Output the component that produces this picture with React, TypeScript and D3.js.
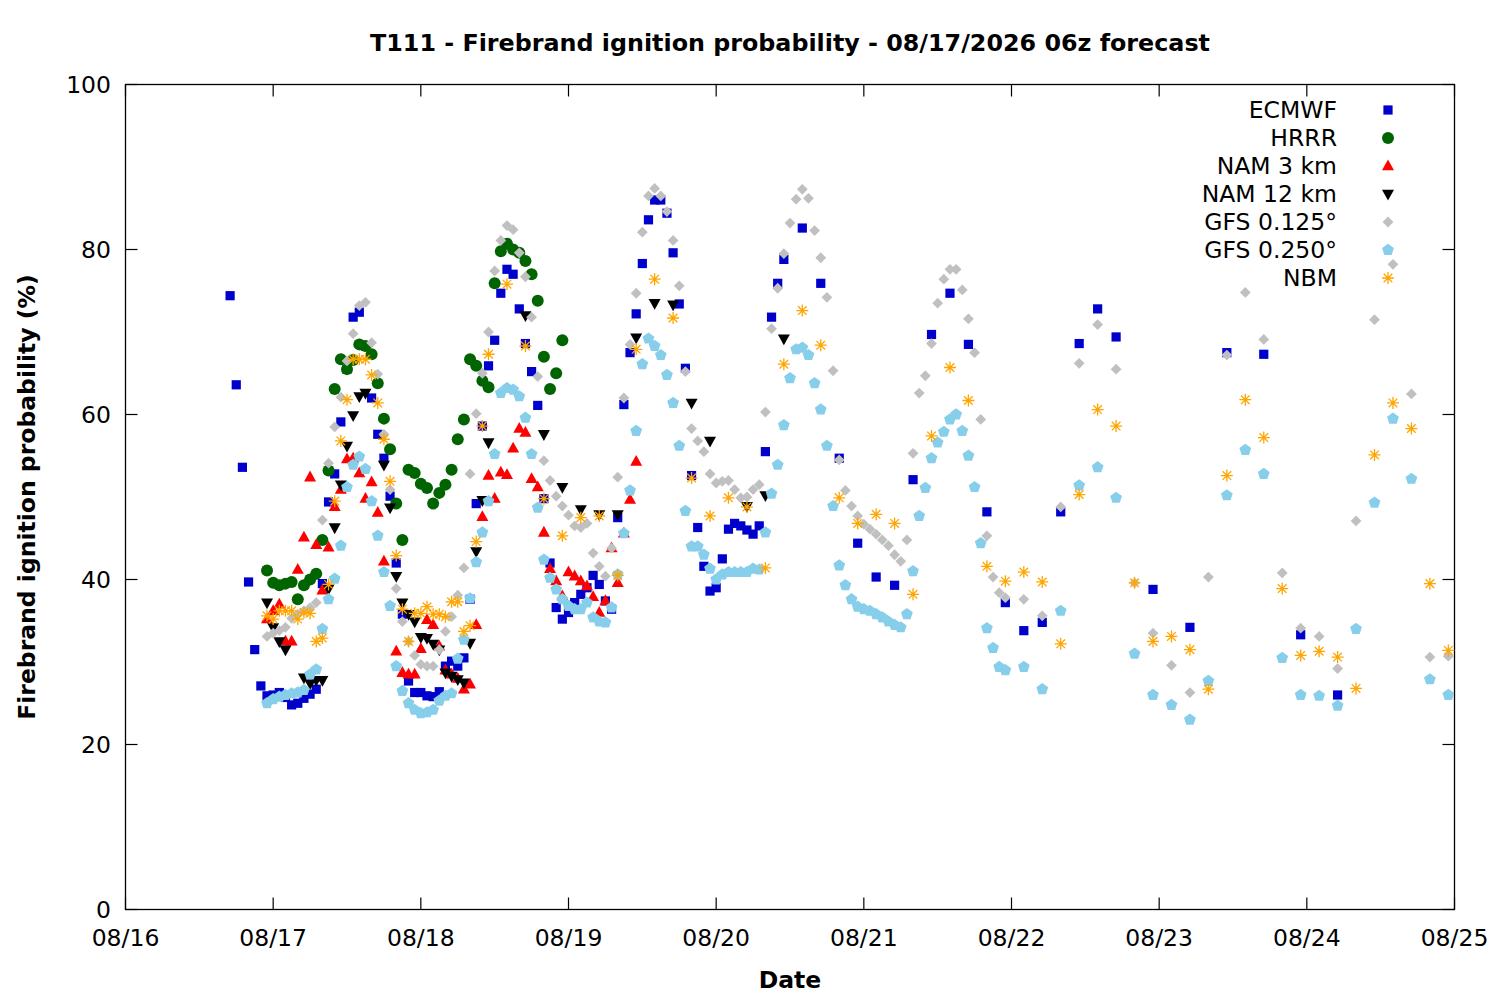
import React from "react";
import * as d3 from "d3";

// ---------------- DATA (hours after 08/16 00:00, values in %; null = no mark) ----------------
const ecmwfHours = [...d3.range(17, 108), ...d3.range(110, 162, 3), ...d3.range(167, 198, 6)];
const ecmwfValues = [
  74.4, 63.6, 53.6, 39.7, 31.5, 27.1, 25.9, 26.0, 26.3, 25.7, 24.8, 25.0, 25.6, 26.1, 26.7,
  39.5, 49.4, 52.8, 59.1, 65.5, 71.8, 72.4, 68.3, 62.0, 57.6, 54.7, 50.1, 42.0, 35.8, 27.7,
  26.3, 26.3, 25.9, 25.8, 26.4, 29.5, 30.1, 29.5, 30.5, 37.6, 49.2, 58.6, 65.9, 69.0, 74.7,
  77.6, 77.0, 72.8, 68.6, 65.2, 61.1, 49.8, 42.0, 36.6, 35.2, 36.0, 37.2, 38.2, 39.0, 40.5,
  39.4, 37.4, 36.4, 47.5, 61.2, 67.5, 72.2, 78.3, 83.6, 86.0, 86.0, 84.4, 79.6, 73.4, 65.6,
  52.6, 46.3, 41.6, 38.6, 39.0, 42.5, 46.1, 46.8, 46.5, 46.0, 45.5, 46.5, 55.5, 71.8, 75.9,
  78.8,
  82.6, 75.9, 54.7, 44.4, 40.3, 39.3, 52.1, 69.7, 74.7, 68.5, 48.2, 37.2, 33.8, 34.8, 48.2,
  68.6, 72.8, 69.4,
  38.8, 34.2, 67.5, 67.3, 33.3, 26.0,
];

const hrrrHours = d3.range(23, 72);
const hrrrValues = [
  41.1, 39.6, 39.3, 39.5, 39.7, 37.6, 39.3, 40.0, 40.7, 44.8, 53.2, 63.1, 66.7, 65.5, 66.6,
  68.5, 68.3, 67.3, 63.8, 59.5, 55.8, 49.2, 44.8, 53.3, 52.9, 51.6, 51.1, 49.2, 50.5, 51.5,
  53.3, 57.0, 59.4, 66.7, 65.9, 64.1, 63.3, 75.9, 79.8, 80.7, 80.0, 79.6, 78.6, 77.0, 73.8,
  67.0, 63.1, 65.0, 69.0,
];

const nam3Hours = d3.range(23, 84);
const nam3Values = [
  35.2, 36.2, 37.0, 32.5, 32.5, 41.2, 45.1, 52.4, 44.2, 38.7, 43.9, 48.8, 50.9, 54.6, 54.7,
  52.9, 49.8, 51.8, 48.1, 42.2, null, 31.3, 28.7, 28.5, 28.5, 31.6, 35.1, 34.5, 31.9, 29.0,
  28.5, 28.0, 26.7, 27.3, 34.5, 47.6, 52.6, 49.8, 53.0, 52.7, 55.9, 58.3, 57.8, 52.2, 51.2,
  45.7, 41.3, 39.8, 38.0, 40.9, 40.4, 39.8, 39.2, 37.9, 36.0, 37.4, 43.8, 39.6, 45.6, 49.7,
  54.3,
];

const nam12Hours = [...d3.range(23, 60), ...d3.range(62, 108, 3)];
const nam12Values = [
  37.2, 34.2, 32.5, 31.5, null, null, 28.1, 27.4, 27.8, 27.8, 38.9, 46.3, 51.5, 56.2, 59.9,
  62.2, 62.6, null, null, 53.9, 48.7, 40.4, 37.2, 35.8, 34.9, 33.0, 32.9, 32.2, 31.5, 28.7,
  28.3, 27.9, 27.5, 32.3, 43.4, 49.6, 56.6,
  null, 72.0, 57.6, 51.2, 48.5, 47.9, 47.9, 69.3, 73.5, 73.3, 61.4, 56.8, null, 48.9, 50.2,
  69.2,
];

const gfs125Hours = [...d3.range(23, 144), ...d3.range(146, 216, 3)];
const gfs125Values = [
  33.1, 33.5, 33.8, 34.2, 35.3, 35.8, 36.2, 36.6, 37.2, 47.2, 54.1, 58.5, 62.1, 66.5, 69.8,
  73.2, 73.6, 68.7, 64.9, 57.6, 50.9, 38.9, 34.9, 32.5, 30.8, 29.7, 29.5, 29.5, 31.5, 33.7,
  35.5, 38.1, 41.4, 52.8, 60.1, 65.0, 70.0, 77.4, 81.1, 82.9, 82.4, 79.6, 76.7, 71.8, 64.6,
  54.4, 52.0, 50.1, 48.9, 47.8, 46.5, 46.3, 46.8, 43.2, 41.6, 40.4, 43.8, 52.4, 62.0, 68.5,
  74.7, 82.1, 86.5, 87.4, 86.5, 84.6, 81.1, 75.6, 65.2, 58.3, 56.8, 55.5, 52.8, 51.7, 51.9,
  52.0, 50.9, 49.9, 50.0, 50.9, 51.5, 60.3, 70.4, 75.3, 79.5, 83.2, 86.1, 87.3, 86.2, 82.3,
  79.0, 74.2, 65.3, 54.5, 50.8, 48.9, 47.7, 46.7, 46.1, 45.5, 44.8, 44.1, 43.0, 42.2, 44.8,
  55.3, 62.6, 64.7, 68.6, 73.5, 76.4, 77.6, 77.6, 75.1, 71.6, 67.5, 59.4, 45.3, 40.3, 38.4,
  37.8,
  37.6, 35.6, 48.8, 66.2, 70.9, 65.5, 39.6, 33.5, 29.6, 26.3, 40.3, 67.2, 74.8, 69.1, 40.8,
  34.1, 33.1, 29.2, 47.1, 71.5, 78.2, 62.5, 30.6, 30.7,
];

const gfs250Hours = [...d3.range(23, 144), ...d3.range(146, 216, 3)];
const gfs250Values = [
  25.0, 25.5, 25.8, 26.0, 26.2, 26.3, 26.6, 28.5, 29.1, 34.0, 37.6, 40.1, 44.1, 51.2, 53.9,
  54.9, 53.4, 49.5, 45.3, 40.9, 36.8, 29.5, 26.5, 25.0, 24.2, 23.8, 23.9, 24.2, 25.3, 25.9,
  26.2, 30.4, 32.7, 37.7, 42.1, 45.7, 49.5, 55.2, 62.6, 63.2, 63.0, 62.2, 59.6, 55.2, 48.7,
  42.4, 40.2, 38.8, 37.6, 36.8, 36.4, 36.4, 37.2, 35.4, 34.9, 34.8, 36.6, 40.6, 45.6, 50.8,
  58.0, 66.1, 69.2, 68.3, 67.2, 64.8, 61.4, 56.2, 48.3, 44.0, 44.0, 43.0, 41.3, 40.0, 40.6,
  40.9, 40.9, 40.9, 40.9, 41.3, 41.2, 45.7, 50.4, 53.9, 58.7, 64.4, 67.9, 68.1, 67.2, 63.8,
  60.6, 56.2, 48.9, 41.7, 39.3, 37.6, 36.7, 36.4, 36.2, 35.8, 35.4, 34.9, 34.5, 34.2, 35.8,
  41.0, 47.7, 51.1, 54.7, 56.6, 57.9, 59.4, 60.0, 58.0, 55.0, 51.2, 44.4, 34.1, 31.7, 29.4,
  29.0,
  29.4, 26.7, 36.2, 51.4, 53.6, 49.9, 31.0, 26.0, 24.8, 23.0, 27.7, 50.2, 55.7, 52.8, 30.5,
  26.0, 25.9, 24.7, 34.0, 49.3, 59.5, 52.2, 27.9, 26.0,
];

const nbmHours = [...d3.range(23, 60), ...d3.range(62, 216, 3)];
const nbmValues = [
  35.6, 35.2, 36.2, 36.2, 36.2, 35.2, 36.0, 35.9, 32.5, 32.9, 39.4, 49.5, 56.8, 61.8, 66.7,
  66.7, 66.7, 64.8, 61.4, 57.0, 51.9, 42.9, 36.4, 32.5, 35.9, 35.9, 36.7, 35.8, 35.8, 35.5,
  37.3, 37.3, 33.7, 34.4, 44.6, 58.6, 67.3,
  75.8, 68.3, 49.8, 45.3, 47.5, 47.7, 40.5, 67.9, 76.4, 71.7, 52.3, 47.7, 49.9, 48.8, 41.4,
  66.1, 72.6, 68.4, 49.9, 46.8, 47.9, 46.8, 38.2, 57.4, 65.7, 61.7, 41.6, 39.8, 40.9, 39.7,
  32.2, 50.3, 60.6, 58.6, 39.6, 32.5, 33.1, 31.5, 26.7, 52.6, 61.8, 57.2, 38.9, 30.8, 31.3,
  30.6, 26.8, 55.1, 61.4, 58.3, 39.5, 31.4,
];

const dayLabels = ["08/16", "08/17", "08/18", "08/19", "08/20", "08/21", "08/22", "08/23", "08/24", "08/25"];
const yTicks = [0, 20, 40, 60, 80, 100];

const titleText = "T111 - Firebrand ignition probability - 08/17/2026 06z forecast";

// ---------------- LAYOUT ----------------
const W = 1500;
const H = 1000;
const PL = 125.5;
const PR = 1454.5;
const PT = 84.5;
const PB = 909.5;
const FONT = "'DejaVu Sans', Verdana, sans-serif";

const x = d3.scaleLinear().domain([0, 216]).range([PL, PR]);
const y = d3.scaleLinear().domain([0, 100]).range([PB, PT]);

type Kind = "square" | "circle" | "tri" | "tridown" | "diamond" | "pentagon" | "star";

const series: { name: string; hours: number[]; values: (number | null)[]; kind: Kind; color: string }[] = [
  { name: "ECMWF", hours: ecmwfHours, values: ecmwfValues, kind: "square", color: "#0000cc" },
  { name: "HRRR", hours: hrrrHours, values: hrrrValues, kind: "circle", color: "#006400" },
  { name: "NAM 3 km", hours: nam3Hours, values: nam3Values, kind: "tri", color: "#ff0000" },
  { name: "NAM 12 km", hours: nam12Hours, values: nam12Values, kind: "tridown", color: "#000000" },
  { name: "GFS 0.125°", hours: gfs125Hours, values: gfs125Values, kind: "diamond", color: "#c0c0c0" },
  { name: "GFS 0.250°", hours: gfs250Hours, values: gfs250Values, kind: "pentagon", color: "#87ceeb" },
  { name: "NBM", hours: nbmHours, values: nbmValues, kind: "star", color: "#ffa500" },
];

const pentagonPath = (() => {
  const r = 6.2;
  const pts = d3.range(5).map((k) => {
    const a = (-90 + 72 * k) * (Math.PI / 180);
    return [r * Math.cos(a), r * Math.sin(a)];
  });
  return "M" + pts.map((p) => p[0].toFixed(2) + "," + p[1].toFixed(2)).join("L") + "Z";
})();

function Marker({ kind, color, cx, cy }: { kind: Kind; color: string; cx: number; cy: number }) {
  const t = `translate(${cx},${cy})`;
  switch (kind) {
    case "square":
      return <rect x={cx - 4.6} y={cy - 4.6} width={9.2} height={9.2} fill={color} />;
    case "circle":
      return <circle cx={cx} cy={cy} r={6} fill={color} />;
    case "tri":
      return <path transform={t} d="M0,-6.6L6,4.2L-6,4.2Z" fill={color} />;
    case "tridown":
      return <path transform={t} d="M0,6.6L6,-4.2L-6,-4.2Z" fill={color} />;
    case "diamond":
      return <path transform={t} d="M0,-5.4L5.4,0L0,5.4L-5.4,0Z" fill={color} />;
    case "pentagon":
      return <path transform={t} d={pentagonPath} fill={color} />;
    case "star":
      return (
        <path
          transform={t}
          d="M-6,0L6,0M0,-6L0,6M-4.3,-4.3L4.3,4.3M-4.3,4.3L4.3,-4.3"
          stroke={color}
          strokeWidth={1.3}
          fill="none"
        />
      );
  }
  return null;
}

export default function App() {
  const xTicks = d3.range(0, 217, 24);
  return (
    <div style={{ position: "absolute", left: 0, top: 0, width: W, height: H, background: "#fff" }}>
      <svg width={W} height={H} viewBox={`0 0 ${W} ${H}`} style={{ display: "block" }}>
        <rect x={0} y={0} width={W} height={H} fill="#fff" />
        {/* title */}
        <text x={790} y={43} dy="0.35em" textAnchor="middle" fontFamily={FONT} fontWeight="bold" fontSize={23.8}>
          {titleText}
        </text>

        {/* y ticks */}
        {yTicks.map((v) => (
          <g key={"y" + v}>
            <line x1={PL} x2={PL + 12} y1={y(v)} y2={y(v)} stroke="#000" strokeWidth={1.2} />
            <line x1={PR - 12} x2={PR} y1={y(v)} y2={y(v)} stroke="#000" strokeWidth={1.2} />
            <text x={111} y={y(v)} dy="0.35em" textAnchor="end" fontFamily={FONT} fontSize={23.5}>
              {v}
            </text>
          </g>
        ))}

        {/* x ticks */}
        {xTicks.map((h, i) => (
          <g key={"x" + h}>
            <line x1={x(h)} x2={x(h)} y1={PB} y2={PB - 12} stroke="#000" strokeWidth={1.2} />
            <line x1={x(h)} x2={x(h)} y1={PT} y2={PT + 12} stroke="#000" strokeWidth={1.2} />
            <text x={x(h)} y={938} dy="0.35em" textAnchor="middle" fontFamily={FONT} fontSize={23.5}>
              {dayLabels[i]}
            </text>
          </g>
        ))}

        {/* frame */}
        <rect x={PL} y={PT} width={PR - PL} height={PB - PT} fill="none" stroke="#000" strokeWidth={1.3} />

        {/* axis labels */}
        <text x={790} y={980} dy="0.35em" textAnchor="middle" fontFamily={FONT} fontWeight="bold" fontSize={23.5}>
          Date
        </text>
        <text
          transform={`translate(27,497) rotate(-90)`}
          dy="0.35em"
          textAnchor="middle"
          fontFamily={FONT}
          fontWeight="bold"
          fontSize={23.5}
        >
          Firebrand ignition probability (%)
        </text>

        {/* data */}
        {series.map((s) => (
          <g key={s.name}>
            {s.values.map((v, i) =>
              v == null ? null : (
                <Marker key={i} kind={s.kind} color={s.color} cx={x(s.hours[i])} cy={y(v)} />
              )
            )}
          </g>
        ))}

        {/* legend */}
        {series.map((s, i) => (
          <g key={"leg" + s.name}>
            <text x={1337} y={110 + 28 * i} dy="0.35em" textAnchor="end" fontFamily={FONT} fontSize={23.5}>
              {s.name}
            </text>
            <Marker kind={s.kind} color={s.color} cx={1388} cy={110 + 28 * i} />
          </g>
        ))}
      </svg>
    </div>
  );
}
